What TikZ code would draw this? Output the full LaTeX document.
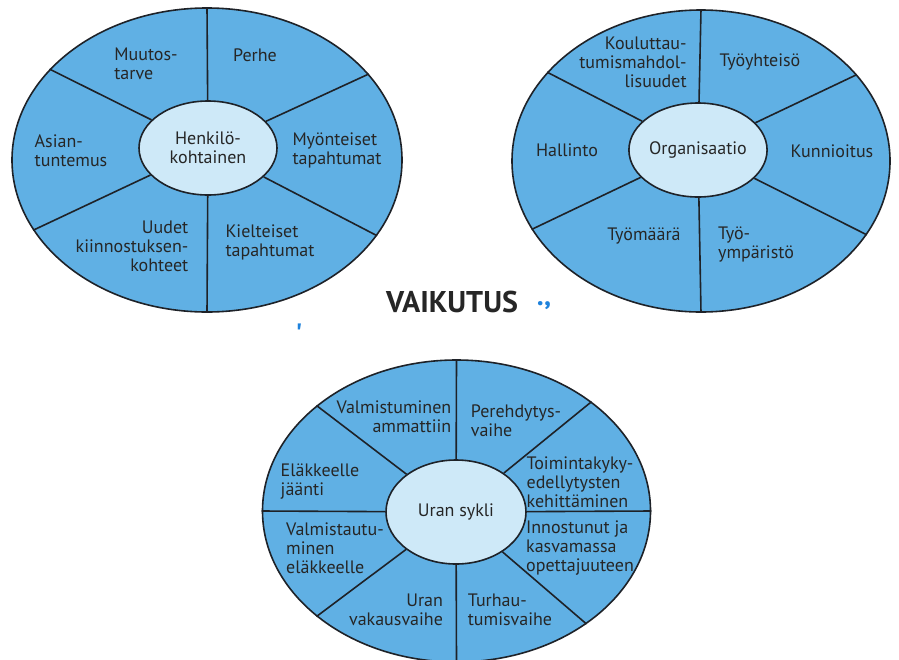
\documentclass[tikz,border=0pt]{standalone}
\usepackage{fontspec}
\setmainfont{PT Sans}
\usepackage{xcolor}
\usetikzlibrary{shapes.geometric, positioning}

\definecolor{ringblue}{RGB}{96,176,228}
\definecolor{coreblue}{RGB}{206,233,248}
\definecolor{edgegray}{RGB}{30,34,40}
\definecolor{markblue}{RGB}{30,130,220}

\begin{document}
\begin{tikzpicture}[x=1pt, y=-1pt,
    % Styles
    ring/.style={
        ellipse,
        fill=ringblue,
        draw=edgegray,
        line width=1.6pt,
        inner sep=0pt
    },
    core/.style={
        ellipse,
        fill=coreblue,
        draw=edgegray,
        line width=1.6pt,
        inner sep=0pt,
        align=center,
        text=black!85,
        font=\fontsize{18}{19}\selectfont
    },
    spoke/.style={draw=edgegray, line width=1.6pt},
    sector/.style={
        inner sep=0pt,
        text=black!85,
        font=\fontsize{18}{19}\selectfont
    },
    scanmark/.style={text=markblue, font=\bfseries\fontsize{28}{28}\selectfont}
]

% Canvas
\path[use as bounding box, fill=white] (0,0) rectangle (899,659);
\clip (0,0) rectangle (899,659);

% PERSONAL section
\node[ring, minimum width=390, minimum height=304] (pers) at (207,160) {};
\node[core, minimum width=138, minimum height=94] (perscore) at (208,148) {Henkilö-\\kohtainen};
\foreach \a in {90,150,28,202,336,270}
    \draw[spoke] (perscore) -- (pers.\a);

\node[sector, align=left] (muutos) at (146,64) {Muutos-\\tarve};
\node[sector] (perhe) at (255,55) {Perhe};
\node[sector, align=left] (asian) at (71,151) {Asian-\\tuntemus};
\node[sector, align=left] (myont) at (337,150) {Myönteiset\\tapahtumat};
\node[sector, align=right] (uudet) at (132,246) {Uudet\\kiinnostuksen-\\kohteet};
\node[sector, align=left] (kielt) at (270,242) {Kielteiset\\tapahtumat};

% ORGANISATION section
\node[ring, minimum width=378, minimum height=302] (org) at (701,161) {};
\node[core, minimum width=136, minimum height=94] (orgcore) at (698,150) {Organisaatio};
\foreach \a in {90,150,29,202,336,270}
    \draw[spoke] (orgcore) -- (org.\a);

\node[sector, align=right] (koulu) at (633,62) {Kouluttau-\\tumismahdol-\\lisuudet};
\node[sector] (tyoyht) at (760,62) {Työyhteisö};
\node[sector] (hallinto) at (567,150) {Hallinto};
\node[sector] (kunn) at (832,151) {Kunnioitus};
\node[sector] (tyomaara) at (644,236) {Työmäärä};
\node[sector, align=left] (tyoymp) at (756,245) {Työ-\\ympäristö};

% Title between the rings
\node[font=\bfseries\fontsize{30}{32}\selectfont, text=black!85] (effect) at (452,302) {VAIKUTUS};
\node[scanmark] (dots) at (544,306) {.,};
\node[scanmark] (tick) at (299,334) {\textquotesingle};

% CAREER section
\node[ring, minimum width=388, minimum height=302] (career) at (456.5,511) {};
\node[core, minimum width=140, minimum height=104] (careercore) at (456,512) {Uran sykli};
\foreach \a in {90,39,0,319,270,217,180,143}
    \draw[spoke] (careercore) -- (career.\a);

\node[sector, align=right] (valmist) at (394,417) {Valmistuminen\\ammattiin};
\node[sector, align=left] (pereh) at (516,421) {Perehdytys-\\vaihe};
\node[sector, align=left] (elak) at (320,482) {Eläkkeelle\\jäänti};
\node[sector, align=left] (toim) at (580,482) {Toimintakyky-\\edellytysten\\kehittäminen};
\node[sector, align=left] (valmau) at (335,548) {Valmistautu-\\minen\\eläkkeelle};
\node[sector, align=left] (innost) at (580,548) {Innostunut ja\\kasvamassa\\opettajuuteen};
\node[sector, align=right] (vakaus) at (396,610) {Uran\\vakausvaihe};
\node[sector, align=left] (turh) at (510,610) {Turhau-\\tumisvaihe};

\end{tikzpicture}
\end{document}
